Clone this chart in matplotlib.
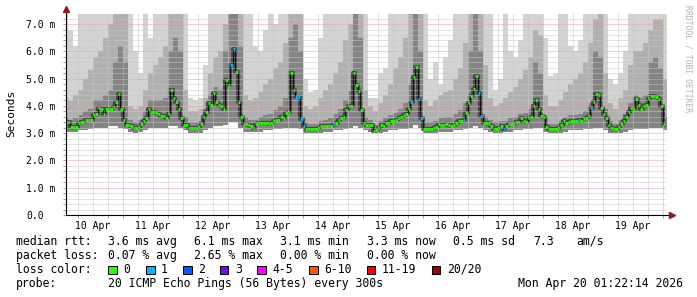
import numpy as np
import matplotlib
matplotlib.use("Agg")
import matplotlib.pyplot as plt
from matplotlib.patches import Rectangle
from datetime import datetime

W, H = 697, 297
MONO = "DejaVu Sans Mono"

# graph window: 10 days ending at the "now" timestamp
day0 = datetime(2026, 4, 10)
now = datetime(2026, 4, 20, 1, 22, 14)
x_end = (now - day0).total_seconds() / 3600
x_start = x_end - 240

# hourly median rtt in ms, first value is 10 Apr 01:00-02:00
median = [
    3.42, 3.42, 3.24, 3.24, 3.24, 3.36, 3.40, 3.40, 3.50, 3.50, 3.50, 3.65,
    3.70, 3.92, 3.90, 3.69, 3.87, 3.87, 3.87, 3.95, 4.15, 4.42, 3.90,
    3.49, 3.30, 3.30, 3.25, 3.20, 3.20, 3.24, 3.33, 3.45, 3.55, 3.90, 3.76,
    3.76, 3.73, 3.72, 3.63, 3.62, 3.55, 3.70, 4.58, 4.30, 4.15, 3.87, 3.55,
    3.30, 3.30, 3.20, 3.20, 3.20, 3.20, 3.22, 3.35, 3.60, 3.79, 4.10, 4.04,
    4.49, 4.16, 4.04, 3.98, 3.89, 4.95, 4.77, 5.51, 6.09, 5.26, 4.16, 3.60,
    3.33, 3.33, 3.30, 3.28, 3.20, 3.33, 3.36, 3.38, 3.39, 3.37, 3.35, 3.36,
    3.45, 3.48, 3.50, 3.60, 3.55, 3.75, 3.79, 5.22, 4.58, 4.34, 4.32, 3.52,
    3.27, 3.14, 3.14, 3.14, 3.14, 3.16, 3.20, 3.26, 3.26, 3.26, 3.25, 3.27,
    3.33, 3.36, 3.48, 3.55, 3.60, 3.85, 4.00, 3.98, 5.20, 4.77, 4.53, 3.85,
    3.36, 3.30, 3.30, 3.30, 3.08, 3.10, 3.20, 3.30, 3.27, 3.36, 3.36, 3.43,
    3.46, 3.49, 3.55, 3.58, 3.65, 3.72, 3.87, 4.16, 5.07, 5.44, 4.24, 3.55,
    3.17, 3.14, 3.14, 3.17, 3.20, 3.22, 3.33, 3.30, 3.30, 3.33, 3.30, 3.26,
    3.30, 3.39, 3.45, 3.45, 3.50, 3.73, 4.10, 4.37, 4.61, 5.10, 4.49, 3.63,
    3.39, 3.36, 3.33, 3.25, 3.17, 3.17, 3.20, 3.26, 3.17, 3.25, 3.33, 3.33,
    3.33, 3.40, 3.42, 3.55, 3.45, 3.42, 3.55, 3.60, 4.00, 4.22, 3.87, 3.63,
    3.60, 3.24, 3.14, 3.14, 3.14, 3.17, 3.20, 3.30, 3.46, 3.36, 3.42, 3.45,
    3.44, 3.46, 3.48, 3.45, 3.52, 3.55, 3.63, 3.91, 4.16, 4.44, 4.40, 3.91,
    3.70, 3.55, 3.30, 3.20, 3.17, 3.14, 3.24, 3.35, 3.45, 3.58, 3.79, 3.94,
    3.87, 4.24, 4.04, 3.87, 3.98, 4.04, 4.24, 4.37, 4.37, 4.32, 4.24, 3.98,
    3.33, 3.30,
]
median_first_hour = 1

# hours (since 10 Apr 00:00) in which 1 of 20 pings was lost
loss_one_hours = [67, 68, 93, 94, 95, 96, 108, 139, 142, 143, 160, 166, 167,
                  176, 206, 211]

# smoke, 2-hour columns from 10 Apr 00:00: lowest ping, top of the dark band,
# top of the mid grey band, highest ping (ms)
smoke_lo = [
    3.05, 3.05, 3.05, 3.10, 3.12, 3.15, 3.20, 3.20, 3.20, 3.25, 3.25, 3.20,
    3.15, 3.05, 3.02, 3.05, 3.10, 3.20, 3.20, 3.20, 3.20, 3.25, 3.25, 3.20,
    3.10, 3.02, 3.02, 3.02, 3.10, 3.20, 3.25, 3.25, 3.30, 3.40, 3.40, 3.20,
    3.05, 3.05, 3.05, 3.05, 3.10, 3.10, 3.15, 3.15, 3.20, 3.20, 3.20, 3.15,
    3.00, 3.00, 3.00, 3.02, 3.05, 3.05, 3.10, 3.10, 3.15, 3.20, 3.25, 3.20,
    3.10, 3.05, 3.00, 3.00, 3.05, 3.10, 3.10, 3.15, 3.15, 3.20, 3.30, 3.20,
    3.00, 3.00, 3.02, 3.05, 3.05, 3.05, 3.10, 3.10, 3.15, 3.20, 3.25, 3.20,
    3.10, 3.05, 3.02, 3.02, 3.05, 3.05, 3.10, 3.10, 3.15, 3.15, 3.20, 3.20,
    3.05, 3.00, 3.00, 3.02, 3.05, 3.10, 3.10, 3.10, 3.15, 3.15, 3.20, 3.20,
    3.10, 3.02, 3.00, 3.02, 3.05, 3.10, 3.15, 3.15, 3.15, 3.20, 3.20, 3.20,
    3.10,
]
smoke_dark = [
    3.60, 3.50, 3.55, 3.65, 3.80, 3.90, 4.20, 4.20, 4.40, 4.60, 5.60, 6.20,
    5.60, 3.50, 3.40, 3.50, 3.80, 4.20, 4.20, 4.20, 4.30, 6.00, 6.50, 6.00,
    3.60, 3.40, 3.40, 3.45, 3.90, 4.40, 4.70, 4.60, 6.00, 7.40, 7.40, 6.20,
    3.60, 3.50, 3.50, 3.60, 3.65, 3.70, 3.85, 4.00, 4.30, 6.50, 7.00, 6.00,
    3.40, 3.35, 3.35, 3.45, 3.50, 3.55, 3.70, 3.90, 4.20, 4.60, 7.40, 6.50,
    3.60, 3.50, 3.30, 3.45, 3.55, 3.65, 3.75, 3.90, 4.10, 4.80, 7.40, 6.00,
    3.40, 3.40, 3.45, 3.55, 3.60, 3.60, 3.70, 3.85, 4.10, 6.00, 7.40, 6.00,
    3.60, 3.50, 3.40, 3.45, 3.45, 3.55, 3.60, 3.70, 3.75, 3.90, 5.60, 5.20,
    3.60, 3.35, 3.35, 3.45, 3.60, 3.65, 3.65, 3.70, 3.80, 4.10, 6.00, 5.80,
    3.90, 3.45, 3.35, 3.50, 3.70, 4.10, 4.40, 4.30, 4.40, 5.60, 5.80, 5.40,
    3.60,
]
smoke_mid = [
    4.30, 4.20, 4.40, 4.60, 5.00, 5.30, 5.80, 6.00, 6.50, 7.00, 7.40, 7.40,
    7.40, 4.00, 3.90, 4.00, 4.60, 5.20, 5.50, 5.80, 6.20, 7.40, 7.40, 7.40,
    4.60, 3.80, 3.80, 3.90, 4.30, 5.20, 5.80, 6.00, 7.00, 7.40, 7.40, 7.40,
    4.40, 4.20, 4.30, 4.50, 4.80, 5.00, 5.40, 5.60, 6.30, 7.40, 7.40, 7.40,
    4.00, 3.90, 4.00, 4.30, 4.60, 4.80, 5.20, 5.60, 6.40, 7.00, 7.40, 7.40,
    4.60, 4.00, 3.80, 4.10, 4.40, 4.80, 5.40, 5.80, 6.50, 7.40, 7.40, 7.40,
    4.20, 4.00, 4.20, 4.40, 4.50, 4.60, 5.00, 5.40, 6.30, 7.40, 7.40, 7.40,
    5.50, 4.30, 4.00, 4.10, 4.30, 4.50, 4.70, 5.00, 5.30, 5.80, 6.80, 6.60,
    4.40, 4.00, 4.00, 4.20, 4.50, 4.80, 5.00, 5.20, 5.60, 6.30, 7.20, 7.40,
    5.20, 4.10, 3.90, 4.30, 4.60, 5.50, 6.00, 6.00, 6.30, 6.80, 7.20, 7.20,
    5.00,
]
smoke_max = [
    7.40, 6.80, 6.20, 7.40, 7.40, 7.40, 7.40, 7.40, 7.40, 7.40, 7.40, 7.40,
    7.40, 7.40, 6.00, 5.20, 7.40, 6.50, 7.40, 7.40, 7.40, 7.40, 7.40, 7.40,
    7.40, 4.30, 4.20, 4.30, 5.50, 7.40, 7.40, 7.40, 7.40, 7.40, 7.40, 7.40,
    7.40, 7.40, 6.20, 6.00, 6.80, 7.40, 7.00, 7.40, 7.40, 7.40, 7.40, 7.40,
    5.00, 4.50, 4.60, 6.50, 7.40, 7.40, 7.40, 7.40, 7.40, 7.40, 7.40, 7.40,
    7.40, 4.30, 4.30, 5.20, 5.40, 7.40, 7.40, 7.40, 7.40, 7.40, 7.40, 7.40,
    7.40, 5.00, 5.60, 4.80, 5.80, 6.40, 7.40, 7.40, 7.40, 7.40, 7.40, 7.40,
    7.40, 7.40, 4.60, 5.00, 7.40, 6.00, 5.80, 6.40, 7.40, 7.40, 7.40, 7.40,
    6.50, 5.10, 5.20, 7.40, 7.40, 6.20, 6.00, 6.40, 7.40, 7.40, 7.40, 7.40,
    7.40, 5.00, 4.80, 5.20, 6.00, 7.40, 7.40, 7.40, 7.40, 7.40, 7.40, 7.40,
    7.40,
]
smoke_step_hours = 2

day_labels = ["10 Apr", "11 Apr", "12 Apr", "13 Apr", "14 Apr",
              "15 Apr", "16 Apr", "17 Apr", "18 Apr", "19 Apr"]

loss_names = ["0", "1", "2", "3", "4-5", "6-10", "11-19", "20/20"]
loss_colors = ["#26ff00", "#00b8ff", "#0059ff", "#7e00ff", "#ff00ff",
               "#ff5500", "#ff0000", "#a00000"]

stats_rtt = ["median rtt:", "3.6 ms avg", "6.1 ms max", "3.1 ms min",
             "3.3 ms now", "0.5 ms sd", "7.3", "am/s"]
stats_loss = ["packet loss:", "0.07 % avg", "2.65 % max", "0.00 % min",
              "0.00 % now"]


def stepped(v):
    v = np.asarray(v, dtype=float)
    return np.append(v, v[-1])


fig = plt.figure(figsize=(W / 100, H / 100), dpi=100)
fig.patch.set_facecolor("white")
ax = fig.add_axes([66 / W, (H - 215) / H, 600 / W, 201 / H])
ax.set_xlim(x_start, x_end)
ax.set_ylim(0, 7.37)
for s in ax.spines.values():
    s.set_visible(False)

# smoke
t_smoke = np.arange(len(smoke_lo) + 1) * smoke_step_hours
lo = stepped(smoke_lo)
ax.fill_between(t_smoke, lo, stepped(smoke_max), step="post", color="#d3d3d3", lw=0, zorder=1)
ax.fill_between(t_smoke, lo, stepped(smoke_mid), step="post", color="#b0b0b0", lw=0, zorder=1)
ax.fill_between(t_smoke, lo, stepped(smoke_dark), step="post", color="#848484", lw=0, zorder=1)

t_med = np.arange(len(median) + 1) + median_first_hour
ax.step(t_med, stepped(median), where="post", color="#484848", lw=3.0, zorder=1.5)

# grid
dots = (0, (1, 1))
for h in np.arange(6, 242, 6):
    major = h % 24 == 0
    ax.axvline(h, color="#e8a0a0" if major else "#c8c8c8", lw=0.72, ls=dots, zorder=2)
for i, v in enumerate(np.arange(0.2, 7.37, 0.2)):
    major = (i + 1) % 5 == 0
    ax.axhline(v, color="#e8a0a0" if major else "#c8c8c8", lw=0.72, ls=dots, zorder=2)

# median with loss colour
ax.step(t_med, stepped(median), where="post", color="#111111", lw=0.7, zorder=3)
loss = np.zeros(len(median), dtype=int)
for h in loss_one_hours:
    loss[h - median_first_hour] = 1
seg_colors = [loss_colors[k] for k in loss]
ax.hlines(median, t_med[:-1], t_med[1:], colors=seg_colors, lw=2.0, zorder=4)

# axes lines and arrows
axis_kw = dict(transform=ax.transAxes, clip_on=False, zorder=5)
ax.plot([0, 1.01], [0, 0], color="black", lw=0.8, **axis_kw)
ax.plot([0, 0], [0, 1.01], color="black", lw=0.8, **axis_kw)
ax.plot([1.01], [0], marker=">", ms=4, color="#8b1a1a", mec="#8b1a1a", **axis_kw)
ax.plot([0], [1.025], marker="^", ms=4, color="#8b1a1a", mec="#8b1a1a", **axis_kw)

# ticks
ax.set_yticks(np.arange(0, 8))
ax.set_yticklabels(["0.0"] + ["%d.0 m" % v for v in range(1, 8)])
ax.set_yticks(np.arange(0, 7.37, 0.2), minor=True)
ax.tick_params(axis="y", which="both", length=2, width=0.6, color="#909090",
               direction="out", pad=26.6, labelsize=7)
for lab in ax.get_yticklabels():
    lab.set_fontfamily(MONO)
    lab.set_horizontalalignment("left")

ax.set_xticks(np.arange(len(day_labels)) * 24 + 12)
ax.set_xticklabels(day_labels)
ax.set_xticks(np.arange(6, 242, 6), minor=True)
ax.tick_params(axis="x", which="major", length=0, pad=4, labelsize=7)
ax.tick_params(axis="x", which="minor", length=2, width=0.6, color="#909090")
for lab in ax.get_xticklabels():
    lab.set_fontfamily(MONO)

fig.text(11 / W, 1 - 113 / H, "Seconds", rotation=90, ha="center", va="center",
         fontsize=8, family=MONO)
fig.text(688 / W, 1 - 5 / H, "RRDTOOL / TOBI OETIKER", rotation=270, ha="center",
         va="top", fontsize=5.8, family=MONO, color="#b4b4b4")

# legend
def ftext(x, y, s, **kw):
    fig.text(x / W, 1 - y / H, s, va="center", fontsize=8.3, family=MONO, **kw)

for x, s in zip([16, 108, 194, 280, 367, 453, 533, 576], stats_rtt):
    ftext(x, 241.5, s)
for x, s in zip([16, 108, 194, 280, 367], stats_loss):
    ftext(x, 255.5, s)
ftext(16, 269.5, "loss color:")
for x, name, col in zip([108, 146, 183, 220, 257, 309, 367, 432], loss_names, loss_colors):
    fig.add_artist(Rectangle((x / W, 1 - 274 / H), 8.5 / W, 8.5 / H,
                             transform=fig.transFigure, facecolor=col,
                             edgecolor="black", lw=0.72))
    ftext(x + 15, 269.5, name)
ftext(16, 283.5, "probe:")
ftext(108, 283.5, "20 ICMP Echo Pings (56 Bytes) every 300s")
ftext(683, 283.5, now.strftime("%a %b %d %H:%M:%S %Y"), ha="right")

fig.savefig("out.png", dpi=100)
